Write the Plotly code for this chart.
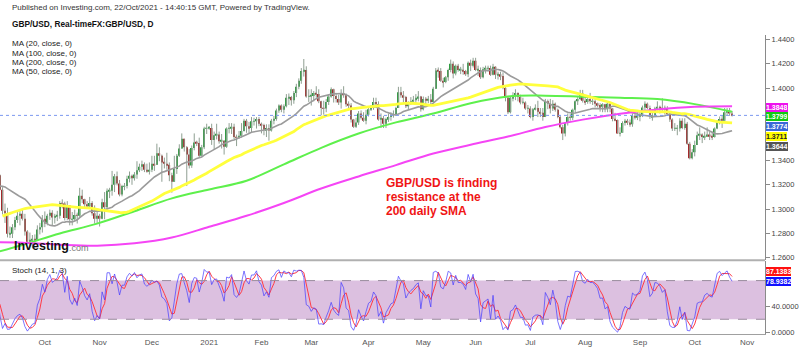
import numpy as np
import pandas as pd
import plotly.graph_objects as go

W, H = 800, 352

# ---------------- data (GBP/USD daily) ----------------
# closes only, 1 Jul - 10 Aug 2020 (history feeding the moving averages)
early_close = [1.2475, 1.2470, 1.2485, 1.2475, 1.2545, 1.2605, 1.2595, 1.2615, 1.2555, 1.2565, 1.2580, 1.2555,
               1.2570, 1.2650, 1.2730, 1.2730, 1.2735, 1.2790, 1.2880, 1.2935, 1.2990, 1.3095, 1.3095,
               1.3075, 1.3080, 1.3145, 1.3125, 1.3060, 1.3075]
# 11 Aug - 8 Sep 2020
pre_close = [1.3050, 1.3045, 1.3095, 1.3090, 1.3125, 1.3240, 1.3090, 1.3215, 1.3090, 1.3075, 1.3145, 1.3200,
             1.3240, 1.3350, 1.3370, 1.3385, 1.3290, 1.3265, 1.3280, 1.3160, 1.2985]
pre_high = [1.3110, 1.3075, 1.3130, 1.3125, 1.3145, 1.3265, 1.3265, 1.3225, 1.3245, 1.3125, 1.3175, 1.3225,
            1.3285, 1.3365, 1.3395, 1.3480, 1.3400, 1.3345, 1.3310, 1.3285, 1.3180]
pre_low = [1.3005, 1.2990, 1.3025, 1.3055, 1.3080, 1.3120, 1.3070, 1.3080, 1.3060, 1.3055, 1.3065, 1.3130,
           1.3145, 1.3235, 1.3310, 1.3360, 1.3270, 1.3235, 1.3210, 1.3155, 1.2955]

# 9 Sep 2020 - 22 Oct 2021 (one row per month)
close = [
    1.2965, 1.2795, 1.2795, 1.2850, 1.2910, 1.2945, 1.2960, 1.2920, 1.2815, 1.2730, 1.2740, 1.2750, 1.2745, 1.2830, 1.2850, 1.2920,
    1.2880, 1.2945, 1.2970, 1.2930, 1.2940, 1.2945, 1.3050, 1.3045, 1.2925, 1.3030, 1.2915, 1.2915, 1.2950, 1.2945, 1.3110, 1.3080, 1.3040, 1.3020, 1.3050, 1.2965, 1.2920, 1.2945,
    1.2920, 1.3055, 1.3015, 1.3150, 1.3150, 1.3200, 1.3270, 1.3210, 1.3120, 1.3190, 1.3190, 1.3250, 1.3275, 1.3255, 1.3285, 1.3320, 1.3350, 1.3370, 1.3325, 1.3315, 1.3325,
    1.3375, 1.3365, 1.3460, 1.3440, 1.3385, 1.3375, 1.3365, 1.3280, 1.3225, 1.3330, 1.3440, 1.3500, 1.3580, 1.3510, 1.3450, 1.3360, 1.3505, 1.3550, 1.3545, 1.3440, 1.3510, 1.3665, 1.3670,
    1.3670, 1.3570, 1.3610, 1.3615, 1.3560, 1.3565, 1.3515, 1.3665, 1.3665, 1.3680, 1.3595, 1.3590, 1.3605, 1.3645, 1.3730, 1.3685, 1.3670, 1.3725, 1.3725, 1.3745, 1.3705,
    1.3695, 1.3655, 1.3670, 1.3650, 1.3730, 1.3745, 1.3815, 1.3855, 1.3820, 1.3850, 1.3920, 1.3925, 1.3900, 1.3960, 1.4010, 1.4060, 1.4140, 1.4150, 1.3930, 1.3935,
    1.3935, 1.3960, 1.3950, 1.3890, 1.3835, 1.3830, 1.3885, 1.3930, 1.3990, 1.3935, 1.3910, 1.3880, 1.3960, 1.3940, 1.3865, 1.3855, 1.3740, 1.3680, 1.3715, 1.3790, 1.3755, 1.3730, 1.3780,
    1.3825, 1.3835, 1.3885, 1.3865, 1.3740, 1.3750, 1.3705, 1.3745, 1.3760, 1.3780, 1.3785, 1.3835, 1.3965, 1.3940, 1.3925, 1.3850, 1.3875, 1.3890, 1.3900, 1.3920, 1.3930, 1.3825,
    1.3910, 1.3900, 1.3905, 1.3885, 1.3995, 1.4145, 1.4140, 1.4060, 1.4050, 1.4090, 1.4150, 1.4200, 1.4120, 1.4185, 1.4150, 1.4150, 1.4140, 1.4115, 1.4210, 1.4185, 1.4225,
    1.4150, 1.4150, 1.4090, 1.4155, 1.4160, 1.4165, 1.4110, 1.4175, 1.4110, 1.4115, 1.4100, 1.4000, 1.3920, 1.3800, 1.3920, 1.3930, 1.3960, 1.3925, 1.3880, 1.3880, 1.3830, 1.3830,
    1.3760, 1.3825, 1.3835, 1.3805, 1.3795, 1.3760, 1.3890, 1.3870, 1.3830, 1.3870, 1.3820, 1.3760, 1.3675, 1.3625, 1.3710, 1.3760, 1.3755, 1.3820, 1.3890, 1.3910, 1.3955, 1.3895,
    1.3885, 1.3910, 1.3890, 1.3890, 1.3875, 1.3860, 1.3845, 1.3865, 1.3825, 1.3870, 1.3830, 1.3745, 1.3735, 1.3625, 1.3630, 1.3710, 1.3730, 1.3715, 1.3700, 1.3770, 1.3760, 1.3765,
    1.3780, 1.3840, 1.3870, 1.3835, 1.3760, 1.3775, 1.3830, 1.3840, 1.3830, 1.3825, 1.3835, 1.3785, 1.3740, 1.3665, 1.3665, 1.3665, 1.3730, 1.3670, 1.3705, 1.3540, 1.3420, 1.3470,
    1.3530, 1.3610, 1.3615, 1.3595, 1.3605, 1.3615, 1.3600, 1.3595, 1.3665, 1.3720, 1.3745, 1.3730, 1.3800, 1.3815, 1.3790, 1.3774,
]
high = [
    1.3045, 1.3010, 1.2855, 1.2875, 1.2935, 1.2975, 1.2985, 1.3005, 1.2960, 1.2825, 1.2805, 1.2785, 1.2790, 1.2865, 1.2885, 1.2950,
    1.2980, 1.2960, 1.2995, 1.2990, 1.2960, 1.2985, 1.3065, 1.3080, 1.3060, 1.3065, 1.3030, 1.2975, 1.2995, 1.2970, 1.3175, 1.3160, 1.3085, 1.3065, 1.3100, 1.3065, 1.3030, 1.2990,
    1.2960, 1.3085, 1.3140, 1.3170, 1.3175, 1.3315, 1.3290, 1.3310, 1.3240, 1.3200, 1.3215, 1.3275, 1.3310, 1.3285, 1.3305, 1.3395, 1.3375, 1.3400, 1.3385, 1.3375, 1.3385,
    1.3440, 1.3440, 1.3540, 1.3510, 1.3450, 1.3425, 1.3465, 1.3385, 1.3300, 1.3440, 1.3455, 1.3535, 1.3625, 1.3575, 1.3520, 1.3495, 1.3525, 1.3625, 1.3565, 1.3590, 1.3530, 1.3680, 1.3705,
    1.3685, 1.3705, 1.3640, 1.3705, 1.3640, 1.3620, 1.3570, 1.3675, 1.3710, 1.3710, 1.3705, 1.3615, 1.3645, 1.3710, 1.3745, 1.3745, 1.3720, 1.3760, 1.3755, 1.3760, 1.3760,
    1.3715, 1.3705, 1.3700, 1.3700, 1.3745, 1.3770, 1.3830, 1.3865, 1.3865, 1.3865, 1.3950, 1.3955, 1.3935, 1.3975, 1.4035, 1.4080, 1.4165, 1.4240, 1.4180, 1.3990,
    1.3990, 1.3975, 1.4015, 1.3990, 1.3895, 1.3895, 1.3910, 1.3945, 1.4005, 1.3995, 1.3960, 1.3945, 1.3990, 1.4015, 1.3955, 1.3890, 1.3875, 1.3745, 1.3755, 1.3810, 1.3815, 1.3800, 1.3820,
    1.3850, 1.3860, 1.3920, 1.3920, 1.3890, 1.3790, 1.3770, 1.3755, 1.3790, 1.3800, 1.3815, 1.3845, 1.4010, 1.4010, 1.3975, 1.3935, 1.3890, 1.3925, 1.3935, 1.3950, 1.3975, 1.3935,
    1.3930, 1.3925, 1.3935, 1.3950, 1.4010, 1.4165, 1.4170, 1.4165, 1.4085, 1.4100, 1.4160, 1.4235, 1.4220, 1.4195, 1.4200, 1.4175, 1.4200, 1.4150, 1.4220, 1.4235, 1.4250,
    1.4250, 1.4185, 1.4170, 1.4175, 1.4185, 1.4185, 1.4185, 1.4200, 1.4180, 1.4135, 1.4135, 1.4130, 1.4010, 1.3935, 1.3930, 1.3965, 1.3990, 1.3965, 1.3945, 1.3920, 1.3890, 1.3860,
    1.3850, 1.3835, 1.3865, 1.3895, 1.3835, 1.3835, 1.3910, 1.3905, 1.3910, 1.3900, 1.3880, 1.3830, 1.3770, 1.3695, 1.3715, 1.3790, 1.3785, 1.3830, 1.3900, 1.3930, 1.3985, 1.3985,
    1.3935, 1.3925, 1.3960, 1.3925, 1.3910, 1.3880, 1.3875, 1.3875, 1.3870, 1.3880, 1.3875, 1.3835, 1.3795, 1.3740, 1.3675, 1.3725, 1.3745, 1.3745, 1.3740, 1.3790, 1.3785, 1.3800,
    1.3810, 1.3855, 1.3890, 1.3880, 1.3855, 1.3800, 1.3845, 1.3890, 1.3855, 1.3915, 1.3855, 1.3850, 1.3805, 1.3750, 1.3710, 1.3695, 1.3750, 1.3750, 1.3750, 1.3720, 1.3555, 1.3495,
    1.3565, 1.3640, 1.3675, 1.3625, 1.3640, 1.3675, 1.3640, 1.3640, 1.3675, 1.3735, 1.3765, 1.3775, 1.3835, 1.3835, 1.3835, 1.3810,
]
low = [
    1.2885, 1.2765, 1.2760, 1.2760, 1.2825, 1.2885, 1.2865, 1.2905, 1.2780, 1.2720, 1.2690, 1.2675, 1.2705, 1.2745, 1.2790, 1.2805,
    1.2850, 1.2865, 1.2910, 1.2865, 1.2880, 1.2900, 1.2920, 1.3005, 1.2905, 1.2910, 1.2865, 1.2865, 1.2900, 1.2880, 1.2935, 1.3050, 1.3005, 1.3000, 1.3015, 1.2945, 1.2880, 1.2880,
    1.2855, 1.2915, 1.2915, 1.2995, 1.3090, 1.3110, 1.3140, 1.3195, 1.3105, 1.3105, 1.3155, 1.3170, 1.3220, 1.3200, 1.3235, 1.3250, 1.3305, 1.3315, 1.3305, 1.3300, 1.3285,
    1.3305, 1.3315, 1.3365, 1.3395, 1.3225, 1.3335, 1.3325, 1.3230, 1.3135, 1.3225, 1.3290, 1.3430, 1.3500, 1.3475, 1.3190, 1.3335, 1.3340, 1.3485, 1.3520, 1.3430, 1.3435, 1.3495, 1.3620,
    1.3655, 1.3530, 1.3490, 1.3575, 1.3540, 1.3500, 1.3450, 1.3505, 1.3625, 1.3620, 1.3575, 1.3520, 1.3580, 1.3590, 1.3640, 1.3630, 1.3620, 1.3635, 1.3690, 1.3665, 1.3685,
    1.3625, 1.3610, 1.3595, 1.3565, 1.3640, 1.3700, 1.3730, 1.3795, 1.3800, 1.3790, 1.3840, 1.3860, 1.3855, 1.3870, 1.3925, 1.3990, 1.4035, 1.4095, 1.3920, 1.3885,
    1.3855, 1.3890, 1.3920, 1.3875, 1.3775, 1.3780, 1.3800, 1.3860, 1.3920, 1.3880, 1.3880, 1.3860, 1.3830, 1.3920, 1.3845, 1.3815, 1.3715, 1.3670, 1.3670, 1.3695, 1.3740, 1.3720, 1.3700,
    1.3765, 1.3810, 1.3820, 1.3845, 1.3730, 1.3670, 1.3670, 1.3670, 1.3720, 1.3730, 1.3755, 1.3770, 1.3835, 1.3920, 1.3880, 1.3835, 1.3820, 1.3860, 1.3870, 1.3870, 1.3890, 1.3805,
    1.3815, 1.3865, 1.3875, 1.3865, 1.3880, 1.3995, 1.4085, 1.4050, 1.4005, 1.4040, 1.4060, 1.4130, 1.4080, 1.4105, 1.4135, 1.4115, 1.4110, 1.4100, 1.4090, 1.4140, 1.4170,
    1.4140, 1.4100, 1.4075, 1.4080, 1.4120, 1.4135, 1.4100, 1.4105, 1.4075, 1.4070, 1.4065, 1.3990, 1.3890, 1.3785, 1.3790, 1.3890, 1.3900, 1.3890, 1.3865, 1.3865, 1.3820, 1.3790,
    1.3750, 1.3730, 1.3815, 1.3760, 1.3760, 1.3730, 1.3760, 1.3825, 1.3790, 1.3810, 1.3805, 1.3750, 1.3665, 1.3570, 1.3600, 1.3690, 1.3730, 1.3735, 1.3795, 1.3860, 1.3900, 1.3880,
    1.3860, 1.3870, 1.3870, 1.3860, 1.3840, 1.3840, 1.3805, 1.3800, 1.3800, 1.3800, 1.3800, 1.3725, 1.3725, 1.3625, 1.3600, 1.3630, 1.3690, 1.3695, 1.3680, 1.3680, 1.3740, 1.3735,
    1.3725, 1.3760, 1.3800, 1.3825, 1.3745, 1.3730, 1.3760, 1.3815, 1.3790, 1.3800, 1.3780, 1.3770, 1.3720, 1.3645, 1.3645, 1.3610, 1.3640, 1.3660, 1.3655, 1.3530, 1.3410, 1.3410,
    1.3435, 1.3530, 1.3570, 1.3545, 1.3570, 1.3595, 1.3570, 1.3570, 1.3590, 1.3660, 1.3700, 1.3670, 1.3725, 1.3775, 1.3770, 1.3765,
]

# 100 and 200 day averages read every 15 bars (first sample 8 bars before 9 Sep 2020)
ma_sample_step = 15
ma_sample_first = -8
ma100_samples = [1.2616, 1.2703, 1.2798, 1.2879, 1.2982, 1.3088, 1.3162, 1.3234, 1.3369, 1.3506, 1.3624,
                 1.3716, 1.3789, 1.3875, 1.3931, 1.3937, 1.3929, 1.3920, 1.3909, 1.3867, 1.3804]
ma200_samples = [1.2724, 1.2722, 1.2705, 1.2697, 1.2716, 1.2764, 1.2853, 1.2944, 1.3050, 1.3169, 1.3269,
                 1.3363, 1.3459, 1.3531, 1.3599, 1.3678, 1.3739, 1.3788, 1.3823, 1.3845, 1.3850]

last_values = {"ma200": "1.3848", "ma100": "1.3799", "price": "1.3774", "ma50": "1.3711", "ma20": "1.3644"}
stoch_last = {"d": "87.1383", "k": "78.9382"}
# 1.3600 and 1.3800 are hidden behind the value boxes in the reference
price_ticks = [1.26, 1.28, 1.30, 1.32, 1.34, 1.40, 1.42, 1.44]
stoch_ticks = [0, 40]

# ---------------- derived arrays ----------------
dates = pd.bdate_range("2020-07-01", "2021-11-30")
pos0 = dates.get_loc(pd.Timestamp("2020-09-09"))
n_all = len(early_close) + len(pre_close) + len(close)
idx_all = np.arange(n_all) - pos0
close_all = np.array(early_close + pre_close + close)
open_all = np.r_[close_all[0], close_all[:-1]]

k0 = len(early_close)
xi = idx_all[k0:]
c = close_all[k0:]
o = open_all[k0:]
hi = np.maximum(np.array(pre_high + high), np.maximum(o, c))
lo = np.minimum(np.array(pre_low + low), np.minimum(o, c))

ma20 = pd.Series(close_all).rolling(20).mean().values
ma50 = pd.Series(close_all).rolling(50).mean().values
ma_x = ma_sample_first + ma_sample_step * np.arange(len(ma100_samples))

hh = pd.Series(hi).rolling(14).max()
ll = pd.Series(lo).rolling(14).min()
stk = (100 * (pd.Series(c) - ll) / (hh - ll)).values
std = pd.Series(stk).rolling(3).mean().values

# month ticks
tick_x, tick_t = [], []
for m in pd.period_range("2020-10", "2021-11", freq="M"):
    first = dates[(dates.year == m.year) & (dates.month == m.month)][0]
    tick_x.append(dates.get_loc(first) - pos0)
    tick_t.append(str(m.year) if m.month == 1 else first.strftime("%b"))

# ---------------- geometry ----------------
PX = 2.49          # pixels per bar
X0PX = 5.0         # pixel of first visible bar
PLOT_R = 765.0
XL = (0 - X0PX) / PX
XR = (PLOT_R - X0PX) / PX
PPU = 1220.0       # pixels per price unit
MAIN_TOP, MAIN_BOT = 35.0, 262.0
y_top = 1.44 + (40 - MAIN_TOP) / PPU
y_bot = 1.44 - (MAIN_BOT - 40) / PPU
ST_TOP, ST_BOT = 263.0, 337.0
SPU = 0.65
s_bot = -(ST_BOT - 335.0) / SPU
s_top = (335.0 - ST_TOP) / SPU


def fx(px):
    return px / W


def fy(py):
    return 1 - py / H


up_col, dn_col, wick_col = "#2f9b40", "#a3292b", "#8f9f92"

fig = go.Figure()

# wicks
wx, wy = [], []
for i, h_, l_ in zip(xi, hi, lo):
    wx += [i, i, None]
    wy += [l_, h_, None]
fig.add_trace(go.Scatter(x=wx, y=wy, mode="lines", line=dict(color=wick_col, width=1),
                         xaxis="x", yaxis="y", hoverinfo="skip"))
# bodies
fig.add_trace(go.Bar(x=xi, y=np.maximum(np.abs(c - o), 0.00025), base=np.minimum(o, c),
                     marker=dict(color=[up_col if cc >= oo else dn_col for cc, oo in zip(c, o)], line=dict(width=0)),
                     width=0.62, xaxis="x", yaxis="y", hoverinfo="skip"))

# moving averages
fig.add_trace(go.Scatter(x=idx_all, y=ma20, mode="lines", line=dict(color="#9b9b9b", width=1.6), xaxis="x", yaxis="y"))
fig.add_trace(go.Scatter(x=ma_x, y=ma100_samples, mode="lines", line=dict(color="#5ef04c", width=2, shape="spline"),
                         xaxis="x", yaxis="y"))
fig.add_trace(go.Scatter(x=ma_x, y=ma200_samples, mode="lines", line=dict(color="#f545f5", width=2, shape="spline"),
                         xaxis="x", yaxis="y"))
fig.add_trace(go.Scatter(x=idx_all, y=ma50, mode="lines", line=dict(color="#ffff3c", width=2.8), xaxis="x", yaxis="y"))

# stochastic
fig.add_trace(go.Scatter(x=xi, y=std, mode="lines", line=dict(color="#ff3a46", width=1), xaxis="x2", yaxis="y2"))
fig.add_trace(go.Scatter(x=xi, y=stk, mode="lines", line=dict(color="rgba(70,60,255,0.7)", width=1),
                         xaxis="x2", yaxis="y2"))

shapes = [
    dict(type="rect", xref="paper", yref="y2", x0=0, x1=fx(PLOT_R), y0=20, y1=80,
         fillcolor="#dcc0e0", line=dict(width=0), layer="below"),
    dict(type="line", xref="paper", yref="y2", x0=0, x1=fx(PLOT_R), y0=80, y1=80,
         line=dict(color="#9a8c9e", width=1, dash="dash")),
    dict(type="line", xref="paper", yref="y2", x0=0, x1=fx(PLOT_R), y0=20, y1=20,
         line=dict(color="#9a8c9e", width=1, dash="dash")),
    dict(type="line", xref="paper", yref="y", x0=0, x1=fx(PLOT_R), y0=float(last_values["price"]),
         y1=float(last_values["price"]), line=dict(color="#7b98f0", width=1, dash="dot")),
    dict(type="line", xref="paper", yref="paper", x0=0, x1=fx(PLOT_R), y0=fy(262.5), y1=fy(262.5),
         line=dict(color="#b0b0b0", width=2)),
]

FONT = "Liberation Sans, Arial, sans-serif"
ann = []


def txt(x, y, s, size=8, color="#222", bold=False, anchor="left"):
    ann.append(dict(xref="paper", yref="paper", x=fx(x), y=fy(y), xanchor=anchor, yanchor="middle",
                    text=("<b>%s</b>" % s) if bold else s, showarrow=False,
                    font=dict(family=FONT, size=size, color=color)))


txt(10, 7.5, "Published on Investing.com, 22/Oct/2021 - 14:40:15 GMT, Powered by TradingView.", 8, "#333")
txt(10, 24, "GBP/USD, Real-timeFX:GBP/USD, D", 8.3, "#111", bold=True)
for yy, s in zip([44, 53.5, 63, 72.5], ["MA (20, close, 0)", "MA (100, close, 0)", "MA (200, close, 0)", "MA (50, close, 0)"]):
    txt(10, yy, s, 8, "#222")
txt(10, 272.5, "Stoch (14, 1, 3)", 8, "#222")
for yy, s in zip([185, 199, 213], ["GBP/USD is finding", "resistance at the", "200 daily SMA"]):
    txt(384, yy, s, 12, "#f01515", bold=True)
txt(12, 248, "Investing", 12.5, "#111", bold=True)
txt(66.5, 250, ".com", 9, "#777")


def box(y, s, bg, fg="white"):
    ann.append(dict(xref="paper", yref="paper", x=fx(PLOT_R + 0.5), y=fy(y), xanchor="left", yanchor="middle",
                    text="<b>%s</b>" % s, showarrow=False, bgcolor=bg, borderpad=0, borderwidth=0,
                    height=9, font=dict(family=FONT, size=7, color=fg)))


box(108.3, last_values["ma200"], "#ee11ee")
box(118.0, last_values["ma100"], "#11cc11")
box(127.8, last_values["price"], "#3a68d8")
box(137.6, last_values["ma50"], "#ffff00", "#222")
box(147.4, last_values["ma20"], "#555555")
box(273.6, stoch_last["d"], "#ff1010")
box(283.9, stoch_last["k"], "#1010ff")

fig.update_layout(
    width=W, height=H, margin=dict(l=0, r=0, t=0, b=0),
    paper_bgcolor="white", plot_bgcolor="white",
    showlegend=False, hovermode=False, barmode="overlay",
    font=dict(family=FONT, size=8, color="#444"),
    shapes=shapes, annotations=ann,
    xaxis=dict(domain=[0, fx(PLOT_R)], range=[XL, XR], anchor="y", showticklabels=False,
               showgrid=False, zeroline=False, showline=False, fixedrange=True),
    xaxis2=dict(domain=[0, fx(PLOT_R)], range=[XL, XR], anchor="y2", showgrid=False, zeroline=False,
                showline=True, linecolor="#a0a0a0", linewidth=1, ticks="",
                tickvals=tick_x, ticktext=tick_t, tickfont=dict(size=8, color="#555")),
    yaxis=dict(domain=[fy(MAIN_BOT), fy(MAIN_TOP)], range=[y_bot, y_top], anchor="x", side="right",
               showgrid=False, zeroline=False, showline=True, linecolor="#8a8a8a", linewidth=1,
               ticks="outside", ticklen=4, tickcolor="#8a8a8a",
               tickvals=price_ticks, ticktext=["%.4f" % v for v in price_ticks],
               tickfont=dict(size=7.5, color="#444")),
    yaxis2=dict(domain=[fy(ST_BOT), fy(ST_TOP)], range=[s_bot, s_top], anchor="x2", side="right",
                showgrid=False, zeroline=False, showline=True, linecolor="#8a8a8a", linewidth=1,
                ticks="outside", ticklen=4, tickcolor="#8a8a8a",
                tickvals=stoch_ticks, ticktext=["%.4f" % v for v in stoch_ticks],
                tickfont=dict(size=7.5, color="#444")),
)

fig.write_html("out.html")
